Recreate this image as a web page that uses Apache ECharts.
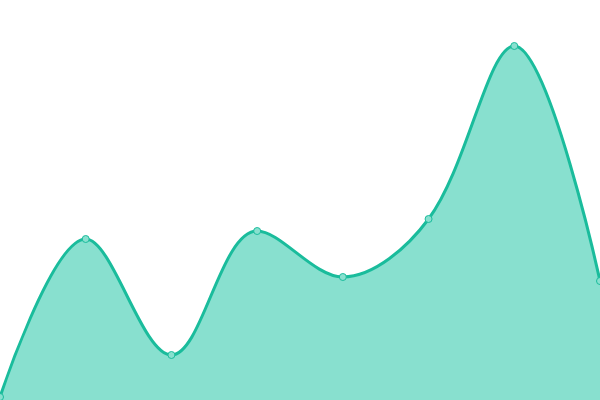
<!DOCTYPE html>
<html>
<head>
<meta charset="utf-8">
<style>html,body{margin:0;padding:0;background:#fff}#main{width:600px;height:400px}</style>
<script src="https://cdn.jsdelivr.net/npm/echarts@6/dist/echarts.min.js"></script>
</head>
<body>
<div id="main"></div>
<script>
var categories = ['1', '2', '3', '4', '5', '6', '7', '8'];
var values = [3, 161, 45, 169, 123, 181, 354, 119];

var chart = echarts.init(document.getElementById('main'));
chart.setOption({
	animation: false,
	grid: { left: 0, right: 0, top: 0, bottom: 0 },
	xAxis: {
		type: 'category',
		data: categories,
		boundaryGap: false,
		show: false
	},
	yAxis: {
		type: 'value',
		min: 0,
		max: 400,
		show: false
	},
	series: [{
		type: 'line',
		data: values,
		smooth: 0.35,
		symbol: 'circle',
		symbolSize: 7,
		itemStyle: { color: '#88e0cf', borderColor: '#1abc9c', borderWidth: 1 },
		lineStyle: { color: '#1abc9c', width: 3 },
		areaStyle: { color: '#88e0cf', opacity: 1 }
	}]
});
</script>
</body>
</html>
